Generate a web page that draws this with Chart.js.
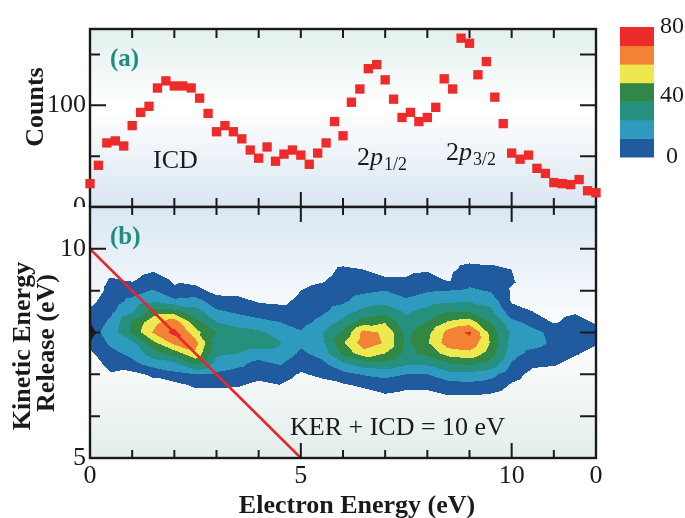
<!DOCTYPE html>
<html>
<head>
<meta charset="utf-8">
<script src="https://cdn.jsdelivr.net/npm/chart.js@4.4.1/dist/chart.umd.min.js"></script>
<style>
html, body { margin: 0; padding: 0; background: #fff; }
#wrap { position: relative; width: 685px; height: 518px; overflow: hidden; }
#top { position: absolute; left: 0; top: 0; width: 685px; height: 220px; }
#bot { position: absolute; left: 0; top: 200px; width: 685px; height: 318px; }
</style>
</head>
<body>
<div id="wrap">
  <canvas id="top" width="685" height="220"></canvas>
  <canvas id="bot" width="685" height="318"></canvas>
</div>
<script>
// ---- panel (a): electron spectrum ----
const electronEnergy = [0, 0.2, 0.4, 0.6, 0.8, 1, 1.2, 1.4, 1.6, 1.8, 2, 2.2, 2.4, 2.6, 2.8,
  3, 3.2, 3.4, 3.6, 3.8, 4, 4.2, 4.4, 4.6, 4.8, 5, 5.2, 5.4, 5.6, 5.8, 6, 6.2, 6.4, 6.6, 6.8,
  7, 7.2, 7.4, 7.6, 7.8, 8, 8.2, 8.4, 8.6, 8.8, 9, 9.2, 9.4, 9.6, 9.8, 10, 10.2, 10.4, 10.6, 10.8,
  11, 11.2, 11.4, 11.6, 11.8, 12];
const counts = [23, 41, 63, 65, 60, 80, 93, 99, 117, 124, 119, 119, 117, 107, 92,
  74, 80, 74, 67, 56, 48, 59, 45, 52, 56, 51, 42, 53, 63, 84, 70, 103, 116, 136, 140,
  125, 106, 88, 93, 84, 88, 98, 126, 116, 166, 161, 130, 143, 108, 82, 53, 47, 51, 38, 33,
  24, 23, 22, 27, 16, 14];

// ---- panel (b): KER vs electron energy map ----
const gridE = [0, 0.5, 1, 1.5, 2, 2.5, 3, 3.5, 4, 4.5, 5, 5.5, 6, 6.5, 7, 7.5, 8, 8.5, 9, 9.5, 10, 10.5, 11, 11.5, 12];
const gridKER = [6.25, 6.5, 6.75, 7, 7.25, 7.5, 7.75, 8, 8.25, 8.5, 8.75, 9, 9.25, 9.5, 9.75, 10];
// one column per electron energy, values bottom (KER 6.25) to top (KER 10)
const zGrid = [
  [0,0,0,0,0,4,9,12,10,8,3,0,0,0,0,0],
  [0,0,1,5,10,14,19,22,19,15,12,9,7,3,0,0],
  [0,0,0,3,14,20,25,42,41,26,20,12,5,2,0,0],
  [0,0,2,8,22,35,48,63,58,45,26,18,10,5,2,0],
  [0,1,3,14,25,45,65,78,68,45,20,7,5,3,0,0],
  [0,2,8,17,42,60,66,55,45,33,22,9,3,0,0,0],
  [0,2,8,15,24,30,35,40,28,19,10,3,1,0,0,0],
  [0,2,7,12,20,28,34,32,24,15,9,3,0,0,0,0],
  [0,0,4,9,13,24,33,30,20,12,5,2,0,0,0,0],
  [0,1,6,10,18,25,29,24,17,10,4,1,0,0,0,0],
  [0,0,2,5,9,15,19,18,13,10,8,6,3,0,0,0],
  [0,0,3,8,14,21,25,27,20,15,12,9,5,2,0,0],
  [0,1,5,14,26,43,50,42,31,22,15,12,10,8,2,0],
  [0,2,8,18,34,58,68,66,46,32,22,15,11,6,2,0],
  [1,5,12,20,36,51,61,60,50,36,24,17,7,4,1,0],
  [0,3,9,17,30,36,38,37,32,26,19,12,7,4,1,0],
  [0,3,9,17,30,44,50,48,40,32,23,16,10,5,2,0],
  [1,6,13,24,39,56,68,66,52,40,26,17,5,4,2,0],
  [1,6,14,25,42,59,70,76,56,40,27,19,13,9,4,0],
  [1,5,12,21,35,46,50,48,40,31,24,16,12,8,4,1],
  [0,1,5,10,16,21,24,26,20,10,5,5,7,6,3,0],
  [0,0,1,3,8,14,21,20,13,6,4,2,0,0,0,0],
  [0,0,0,2,7,11,15,14,5,3,0,0,0,0,0,0],
  [0,0,0,0,3,7,11,12,9,5,2,0,0,0,0,0],
  [0,0,0,0,0,3,7,9,5,2,0,0,0,0,0,0]
];
const contourLevels = [6, 17, 28, 40, 51, 62, 74];
const levelColors = ['#1F5B9E', '#2E9BBE', '#26907F', '#318745', '#EDE84E', '#F38234', '#EE2B2B'];
const colorbarValues = [0, 40, 80];
const colorbarLabels = ['0', '40', '80'];

// KER + ICD = 10 eV line
const kerLineE = [0, 5];
const kerLineKER = [10, 5];
const axisMarkerKER = 8;

// ticks
const xTicks = [0, 1, 2, 3, 4, 5, 6, 7, 8, 9, 10, 11, 12];
const xMajor = [0, 5, 10];
const xLabelValues = [0, 5, 10, 12];
const xLabelTexts = ['0', '5', '10', '0'];
const yTopTicks = [0, 50, 100, 150];
const yTopLabels = [0, 100];
const yBotTicks = [5, 6, 7, 8, 9, 10];
const yBotLabels = [5, 10];

const ink = '#1a1a1a';
const serif = "'Liberation Serif', 'Times New Roman', serif";
const teal = '#1E8E7E';

function txt(ctx, s, x, y, font, color, align, base) {
  ctx.font = font;
  ctx.fillStyle = color || ink;
  ctx.textAlign = align || 'left';
  ctx.textBaseline = base || 'alphabetic';
  ctx.fillText(s, x, y);
}

function vtxt(ctx, s, bx, cy, font) {
  ctx.save();
  ctx.translate(bx, cy);
  ctx.rotate(-Math.PI / 2);
  txt(ctx, s, 0, 0, font, ink, 'center', 'alphabetic');
  ctx.restore();
}

function orbital(ctx, x, y, sub, subDy) {
  ctx.font = '26px ' + serif;
  const w2 = ctx.measureText('2').width;
  txt(ctx, '2', x, y, '26px ' + serif);
  txt(ctx, 'p', x + w2, y, 'italic 26px ' + serif);
  ctx.font = 'italic 26px ' + serif;
  const wp = ctx.measureText('p').width;
  txt(ctx, sub, x + w2 + wp + 1, y + subDy, '18px ' + serif);
}

function hexRGB(h) {
  return [parseInt(h.slice(1, 3), 16), parseInt(h.slice(3, 5), 16), parseInt(h.slice(5, 7), 16)];
}

function sampleZ(e, k) {
  const nE = gridE.length, nK = gridKER.length;
  if (e < gridE[0] || e > gridE[nE - 1] || k < gridKER[0] || k > gridKER[nK - 1]) return 0;
  let i = 0; while (i < nE - 2 && e > gridE[i + 1]) i++;
  let j = 0; while (j < nK - 2 && k > gridKER[j + 1]) j++;
  const u = (e - gridE[i]) / (gridE[i + 1] - gridE[i]);
  const v = (k - gridKER[j]) / (gridKER[j + 1] - gridKER[j]);
  const z00 = zGrid[i][j], z10 = zGrid[i + 1][j], z01 = zGrid[i][j + 1], z11 = zGrid[i + 1][j + 1];
  if (u + v <= 1) return z00 + u * (z10 - z00) + v * (z01 - z00);
  return z11 + (1 - u) * (z01 - z11) + (1 - v) * (z10 - z11);
}

function gradientBg(stops, whiteBelow) {
  return {
    id: 'bg',
    beforeDraw(chart) {
      const { ctx, chartArea: a } = chart;
      ctx.save();
      if (whiteBelow !== undefined) {
        ctx.fillStyle = '#fff';
        ctx.fillRect(0, whiteBelow, chart.width, chart.height - whiteBelow);
      }
      const g = ctx.createLinearGradient(0, a.top, 0, a.bottom);
      stops.forEach(s => g.addColorStop(s[0], s[1]));
      ctx.fillStyle = g;
      ctx.fillRect(a.left, a.top, a.right - a.left, a.bottom - a.top);
      ctx.restore();
    }
  };
}

const frameTop = {
  id: 'frameTop',
  beforeDatasetsDraw(chart) {
    const { ctx, chartArea: a, scales: { x, y } } = chart;
    ctx.save();
    ctx.strokeStyle = ink;
    ctx.lineWidth = 2.4;
    ctx.strokeRect(a.left, a.top, a.right - a.left, a.bottom - a.top);
    ctx.lineWidth = 2;
    ctx.beginPath();
    xTicks.forEach(v => {
      if (v === 0 || v === 12) return;
      const px = x.getPixelForValue(v);
      ctx.moveTo(px, a.top); ctx.lineTo(px, a.top + 9);
      const len = xMajor.includes(v) ? 15 : 9;
      ctx.moveTo(px, a.bottom); ctx.lineTo(px, a.bottom - len);
    });
    yTopTicks.forEach(v => {
      if (v === 0) return;
      const py = y.getPixelForValue(v);
      const len = yTopLabels.includes(v) ? 16 : 10;
      ctx.moveTo(a.left, py); ctx.lineTo(a.left + len, py);
      ctx.moveTo(a.right, py); ctx.lineTo(a.right - 16, py);
    });
    ctx.stroke();
    ctx.restore();
  }
};

const textTop = {
  id: 'textTop',
  afterDraw(chart) {
    const ctx = chart.ctx;
    ctx.save();
    txt(ctx, '(a)', 110, 66, 'bold 25px ' + serif, teal);
    txt(ctx, 'ICD', 153, 168, '26px ' + serif);
    orbital(ctx, 357, 165, '1/2', 5);
    orbital(ctx, 446, 160, '3/2', 5);
    vtxt(ctx, 'Counts', 43, 107, 'bold 26px ' + serif);
    // colour bar
    const cb = { left: 620, top: 27, width: 34, height: 130 };
    const bh = cb.height / levelColors.length;
    levelColors.forEach((c, i) => {
      ctx.fillStyle = c;
      ctx.fillRect(cb.left, cb.top + cb.height - (i + 1) * bh, cb.width, bh + 0.5);
    });
    const vmax = colorbarValues[colorbarValues.length - 1];
    colorbarValues.forEach((v, i) => {
      const yy = cb.top + cb.height - v / vmax * cb.height;
      txt(ctx, colorbarLabels[i], 672, yy + (v === 40 ? 4 : 0), '24px ' + serif, ink, 'center', 'middle');
    });
    ctx.restore();
  }
};

const contour = {
  id: 'contour',
  beforeDatasetsDraw(chart) {
    const { ctx, chartArea: a, scales: { x, y } } = chart;
    const w = Math.round(a.right - a.left), h = Math.round(a.bottom - a.top);
    const off = document.createElement('canvas');
    off.width = w; off.height = h;
    const octx = off.getContext('2d');
    const img = octx.createImageData(w, h);
    const rgb = levelColors.map(hexRGB);
    for (let py = 0; py < h; py++) {
      const k = y.getValueForPixel(a.top + py + 0.5);
      for (let px = 0; px < w; px++) {
        const e = x.getValueForPixel(a.left + px + 0.5);
        const z = sampleZ(e, k);
        let lvl = -1;
        for (let i = 0; i < contourLevels.length; i++) if (z >= contourLevels[i]) lvl = i;
        if (lvl < 0) continue;
        const o = (py * w + px) * 4;
        img.data[o] = rgb[lvl][0]; img.data[o + 1] = rgb[lvl][1]; img.data[o + 2] = rgb[lvl][2];
        img.data[o + 3] = 255;
      }
    }
    octx.putImageData(img, 0, 0);
    ctx.drawImage(off, a.left, a.top);
  }
};

const frameBot = {
  id: 'frameBot',
  afterDatasetsDraw(chart) {
    const { ctx, chartArea: a, scales: { x, y } } = chart;
    ctx.save();
    ctx.strokeStyle = ink;
    ctx.lineWidth = 2.4;
    ctx.strokeRect(a.left, a.top, a.right - a.left, a.bottom - a.top);
    ctx.lineWidth = 2;
    ctx.beginPath();
    xTicks.forEach(v => {
      if (v === 0 || v === 12) return;
      const px = x.getPixelForValue(v);
      const len = xMajor.includes(v) ? 15 : 8;
      ctx.moveTo(px, a.top); ctx.lineTo(px, a.top + len);
      ctx.moveTo(px, a.bottom); ctx.lineTo(px, a.bottom - len);
    });
    yBotTicks.forEach(v => {
      if (v === 5) return;
      const py = y.getPixelForValue(v);
      const len = yBotLabels.includes(v) ? 16 : 10;
      ctx.moveTo(a.left, py); ctx.lineTo(a.left + len, py);
      ctx.moveTo(a.right, py); ctx.lineTo(a.right - 16, py);
    });
    ctx.stroke();
    const my = y.getPixelForValue(axisMarkerKER);
    ctx.fillStyle = ink;
    ctx.beginPath();
    ctx.moveTo(a.left, my - 10); ctx.lineTo(a.left + 6, my); ctx.lineTo(a.left, my + 10);
    ctx.closePath(); ctx.fill();
    ctx.restore();
  }
};

const textBot = {
  id: 'textBot',
  afterDraw(chart) {
    const ctx = chart.ctx;
    ctx.save();
    txt(ctx, '(b)', 110, 44, 'bold 25px ' + serif, teal);
    txt(ctx, 'KER + ICD = 10 eV', 290, 235, '26px ' + serif);
    txt(ctx, 'Electron Energy (eV)', 357, 313, 'bold 26px ' + serif, ink, 'center');
    vtxt(ctx, 'Kinetic Energy', 30, 146, 'bold 26px ' + serif);
    vtxt(ctx, 'Release (eV)', 54, 143, 'bold 26px ' + serif);
    ctx.restore();
  }
};

const tickFont = { family: serif, size: 26 };

new Chart(document.getElementById('top'), {
  type: 'scatter',
  data: {
    datasets: [{
      data: electronEnergy.map((e, i) => ({ x: e, y: counts[i] })),
      pointStyle: 'rect',
      pointRadius: 6.6,
      pointHoverRadius: 6.6,
      backgroundColor: '#EE2B2B',
      borderWidth: 0,
      clip: false
    }]
  },
  options: {
    responsive: false,
    animation: false,
    events: [],
    layout: { padding: { top: 29, right: 89, bottom: 13, left: 0 } },
    plugins: { legend: { display: false }, tooltip: { enabled: false } },
    scales: {
      x: { type: 'linear', min: 0, max: 12, display: false },
      y: {
        type: 'linear', min: 0, max: 175,
        grid: { display: false, drawTicks: false },
        border: { display: false },
        ticks: {
          stepSize: 50, padding: 4, color: ink, font: tickFont,
          callback: v => yTopLabels.includes(v) ? String(v) : ''
        },
        afterFit: s => { s.width = 90; s.paddingTop = 0; s.paddingBottom = 0; }
      }
    }
  },
  plugins: [gradientBg([[0, '#E2F0ED'], [0.45, '#FFFFFF'], [1, '#D9E6F1']]), frameTop, textTop]
});

new Chart(document.getElementById('bot'), {
  type: 'line',
  data: {
    datasets: [{
      data: kerLineE.map((e, i) => ({ x: e, y: kerLineKER[i] })),
      borderColor: '#E8262B',
      borderWidth: 2.6,
      pointRadius: 0,
      fill: false
    }]
  },
  options: {
    responsive: false,
    animation: false,
    events: [],
    layout: { padding: { top: 7, right: 89, bottom: 0, left: 0 } },
    plugins: { legend: { display: false }, tooltip: { enabled: false } },
    scales: {
      x: {
        type: 'linear', position: 'bottom', min: 0, max: 12,
        grid: { display: false, drawTicks: false },
        border: { display: false },
        ticks: {
          stepSize: 1, autoSkip: false, maxRotation: 0, padding: 3, color: ink, font: tickFont,
          callback: v => { const i = xLabelValues.indexOf(v); return i < 0 ? '' : xLabelTexts[i]; }
        },
        afterFit: s => { s.height = 60; s.paddingLeft = 0; s.paddingRight = 0; }
      },
      y: {
        type: 'linear', min: 5, max: 11,
        grid: { display: false, drawTicks: false },
        border: { display: false },
        ticks: {
          stepSize: 1, padding: 4, color: ink, font: tickFont,
          callback: v => yBotLabels.includes(v) ? String(v) : ''
        },
        afterFit: s => { s.width = 90; s.paddingTop = 0; s.paddingBottom = 0; }
      }
    }
  },
  plugins: [gradientBg([[0, '#D9E7F2'], [0.5, '#FFFFFF'], [1, '#E2EEEA']], 7), contour, frameBot, textBot]
});
</script>
</body>
</html>
